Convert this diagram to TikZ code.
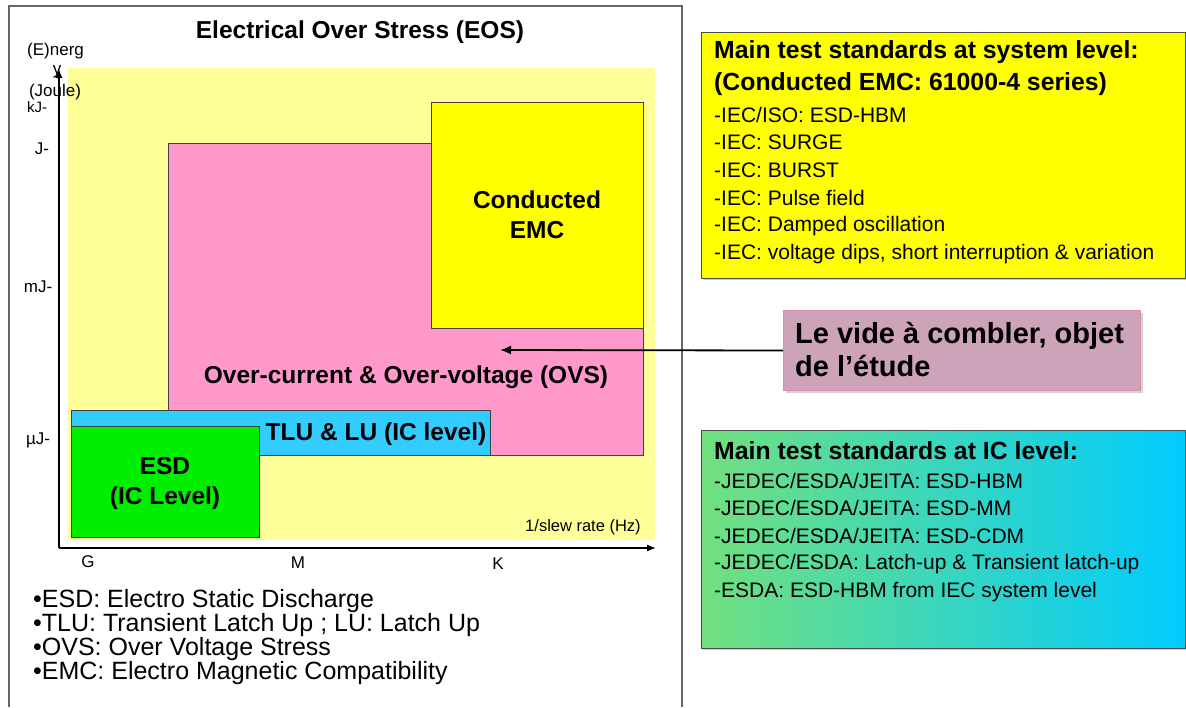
\documentclass[tikz,border=0pt]{standalone}
\usepackage{fontspec}
\setmainfont{Liberation Sans}
\usetikzlibrary{arrows.meta,shadows}
\definecolor{bgyel}{HTML}{FFFF99}
\definecolor{ovspink}{HTML}{FF99CC}
\definecolor{emcyel}{HTML}{FFFF00}
\definecolor{tlucyan}{HTML}{33CCFF}
\definecolor{esdgreen}{HTML}{00EE00}
\definecolor{mauve}{HTML}{CCA3B8}
\definecolor{mauveedge}{HTML}{D890A8}
\definecolor{gradl}{HTML}{72E07E}
\definecolor{gradr}{HTML}{00CCFF}
\begin{document}
\begin{tikzpicture}[x=1pt,y=-1pt,
  zone/.style={draw=black!75,line width=0.8pt},
  zlabel/.style={font=\bfseries\fontsize{24.5}{30}\selectfont,align=center,inner sep=0pt},
  small/.style={font=\fontsize{17}{20}\selectfont,inner sep=0pt},
  legend/.style={font=\fontsize{25}{24}\selectfont,inner sep=0pt,anchor=north west,align=left},
  boxtxt/.style={font=\fontsize{21}{24}\selectfont,inner sep=0pt,anchor=west},
  boxhead/.style={font=\bfseries\fontsize{24.8}{30}\selectfont,inner sep=0pt,anchor=west},
  stdbox/.style={draw=black!70,line width=0.8pt,drop shadow={shadow xshift=1.5pt,shadow yshift=-1.5pt,opacity=0.4}}]
\useasboundingbox (0,0) rectangle (1186,707);
% left panel frame
\draw[black!60,line width=1.6pt] (9,707) -- (9,6) -- (682,6) -- (682,707);
\node[font=\bfseries\fontsize{24.5}{28}\selectfont,inner sep=0pt] (title) at (360,32) {Electrical Over Stress (EOS)};
% chart background
\fill[bgyel] (68,68) rectangle (655,540);
% zones
\path[zone,fill=ovspink] (168,143) rectangle (643,455);
\node[zlabel] (ovs) at (406,377) {Over-current \& Over-voltage (OVS)};
\path[zone,fill=emcyel] (431,102) rectangle (643,328);
\node[zlabel] (emc) at (537,215) {Conducted\\EMC};
\path[zone,fill=tlucyan] (71,410) rectangle (490,455);
\node[zlabel] (tlu) at (376,434) {TLU \& LU (IC level)};
\path[zone,fill=esdgreen] (71,426) rectangle (259,537);
\node[zlabel] (esd) at (165,483) {ESD\\(IC Level)};
% axes
\coordinate (o) at (59,548);
\coordinate (ytip) at (59,69);
\coordinate (xtip) at (656,548);
\draw[line width=1.3pt,-{Latex[length=9pt,width=7pt]}] (o) -- (ytip);
\draw[line width=1.3pt,-{Latex[length=9pt,width=7pt]}] (o) -- (xtip);
\node[small,anchor=west] (elab) at (27,51) {(E)nerg};
\node[small] (ylab) at (57,72) {y};
\node[small,font=\fontsize{15}{18}\selectfont] (kj) at (37,107) {kJ-};
\node[small] (joule) at (55,92) {(Joule)};
\node[small] (jt) at (42,149) {J-};
\node[small] (mjt) at (38,287) {mJ-};
\node[small] (ujt) at (38,440) {µJ-};
\node[small] (gt) at (88,562) {G};
\node[small] (mt) at (298,563) {M};
\node[small] (kt) at (498,564) {K};
\node[small,font=\fontsize{16.5}{20}\selectfont] (slew) at (583,527) {1/slew rate (Hz)};
% legend
\node[legend] (leg) at (33,589) {•ESD: Electro Static Discharge\\•TLU: Transient Latch Up ; LU: Latch Up\\•OVS: Over Voltage Stress\\•EMC: Electro Magnetic Compatibility};
% system level box
\path[stdbox,fill=emcyel] (701,32) rectangle (1185,278);
\node[boxhead] (s0) at (714,52) {Main test standards at system level:};
\node[boxhead] (s1) at (714,84) {(Conducted EMC: 61000-4 series)};
\node[boxtxt] (s2) at (714,115) {-IEC/ISO: ESD-HBM};
\node[boxtxt] (s3) at (714,142) {-IEC: SURGE};
\node[boxtxt] (s4) at (714,170) {-IEC: BURST};
\node[boxtxt] (s5) at (714,198) {-IEC: Pulse field};
\node[boxtxt] (s6) at (714,226) {-IEC: Damped oscillation};
\node[boxtxt] (s7) at (714,254) {-IEC: voltage dips, short interruption \& variation};
% IC level box
\path[stdbox,left color=gradl,right color=gradr] (701,430) rectangle (1185,648);
\node[boxhead] (i0) at (714,451) {Main test standards at IC level:};
\node[boxtxt] (i1) at (714,481) {-JEDEC/ESDA/JEITA: ESD-HBM};
\node[boxtxt] (i2) at (714,508) {-JEDEC/ESDA/JEITA: ESD-MM};
\node[boxtxt] (i3) at (714,536) {-JEDEC/ESDA/JEITA: ESD-CDM};
\node[boxtxt] (i4) at (714,564) {-JEDEC/ESDA: Latch-up \& Transient latch-up};
\node[boxtxt] (i5) at (714,592) {-ESDA: ESD-HBM from IEC system level};
% study gap box
\node[draw=mauveedge,line width=1pt,fill=mauve,minimum width=357pt,minimum height=80pt,inner sep=0pt,
  drop shadow={shadow xshift=2pt,shadow yshift=-2pt,opacity=0.35},
  anchor=north west] (gap) at (783,310) {};
\node[boxhead,font=\bfseries\fontsize{29}{33}\selectfont,align=left] (gaptxt) at (795,350) {Le vide à combler, objet\\de l’étude};
\coordinate (target) at (500,350);
\draw[line width=1.8pt,-{Latex[length=11pt,width=9pt]}] (gap.west) -- (target);
\end{tikzpicture}
\end{document}
